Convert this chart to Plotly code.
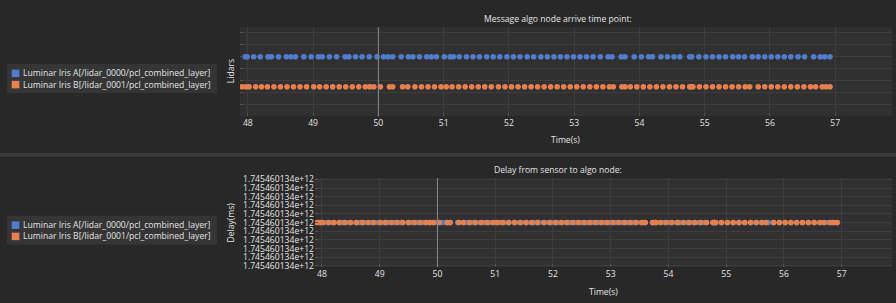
import plotly.graph_objects as go

W, H = 896, 303

# ---------------- data ----------------
series_names = ["Luminar Iris A[/lidar_0000/pcl_combined_layer]",
                "Luminar Iris B[/lidar_0001/pcl_combined_layer]"]
series_colors = ["#4f7ccc", "#e8804c"]

time_a = [47.96, 47.99, 48.09, 48.19, 48.31, 48.36, 48.47, 48.59, 48.66, 48.73,
          48.86, 48.97, 49.08, 49.14, 49.25, 49.36, 49.49, 49.55, 49.65, 49.75,
          49.86, 49.98, 50.08, 50.15, 50.22, 50.35, 50.46, 50.53, 50.63, 50.74,
          50.81, 50.89, 51.01, 51.10, 51.15, 51.24, 51.35, 51.45, 51.55, 51.66,
          51.76, 51.86, 51.97, 52.07, 52.17, 52.28, 52.38, 52.49, 52.59, 52.69,
          52.79, 52.89, 52.99, 53.09, 53.19, 53.29, 53.40, 53.52, 53.58, 53.72,
          53.78, 53.92, 54.03, 54.14, 54.20, 54.33, 54.43, 54.53, 54.62, 54.77,
          54.80, 54.91, 55.02, 55.12, 55.22, 55.32, 55.43, 55.52, 55.61, 55.73,
          55.82, 55.92, 56.02, 56.12, 56.22, 56.32, 56.43, 56.53, 56.67, 56.77,
          56.84, 56.92]
time_b = [47.91, 47.97, 48.02, 48.12, 48.21, 48.30, 48.40, 48.50, 48.60, 48.70,
          48.80, 48.90, 49.01, 49.10, 49.20, 49.30, 49.40, 49.50, 49.60, 49.70,
          49.80, 49.87, 49.93, 50.03, 50.17, 50.22, 50.37, 50.45, 50.56, 50.66,
          50.76, 50.86, 50.96, 51.04, 51.13, 51.23, 51.33, 51.43, 51.53, 51.63,
          51.73, 51.84, 51.94, 52.04, 52.14, 52.24, 52.34, 52.44, 52.54, 52.64,
          52.74, 52.84, 52.94, 53.04, 53.14, 53.24, 53.34, 53.44, 53.54, 53.60,
          53.73, 53.78, 53.86, 53.96, 54.06, 54.16, 54.26, 54.36, 54.46, 54.56,
          54.66, 54.77, 54.79, 54.82, 54.92, 55.02, 55.12, 55.22, 55.32, 55.42,
          55.52, 55.62, 55.69, 55.82, 55.92, 56.02, 56.12, 56.22, 56.32, 56.42,
          56.52, 56.62, 56.70, 56.80, 56.86, 56.92]
lidar_level = [1, 0]                 # row of each lidar in the top panel
delay_ms = 1745460134000.0           # constant delay read for both series
delay_a = [delay_ms for _ in time_a]
delay_b = [delay_ms for _ in time_b]
x_ticks = [48, 49, 50, 51, 52, 53, 54, 55, 56, 57]
delay_tick_label = "1.745460134e+12"
cursor_time = 50

# ---------------- styling helpers ----------------
FONT = "Open Sans"
FS = 8.6
TXT = "#e4e4e4"
BG = "#282828"
PLOT_BG = "#303030"
GRID = "#3d3d3d"
MS = 5.6

def px(x):
    return x / W

def py(y):
    return 1 - y / H

fig = go.Figure()

fig.add_trace(go.Scatter(x=time_a, y=[lidar_level[0]] * len(time_a), mode="markers",
                         marker=dict(color=series_colors[0], size=MS),
                         xaxis="x", yaxis="y", showlegend=False, hoverinfo="skip"))
fig.add_trace(go.Scatter(x=time_b, y=[lidar_level[1]] * len(time_b), mode="markers",
                         marker=dict(color=series_colors[1], size=MS),
                         xaxis="x", yaxis="y", showlegend=False, hoverinfo="skip"))
fig.add_trace(go.Scatter(x=time_a, y=delay_a, mode="markers",
                         marker=dict(color=series_colors[0], size=MS),
                         xaxis="x2", yaxis="y2", showlegend=False, hoverinfo="skip"))
fig.add_trace(go.Scatter(x=time_b, y=delay_b, mode="markers",
                         marker=dict(color=series_colors[1], size=MS),
                         xaxis="x2", yaxis="y2", showlegend=False, hoverinfo="skip"))

d = 0.2
delay_tickvals = [delay_ms + k * d for k in range(-5, 6)]

xaxis_common = dict(range=[47.88, 57.87], tickvals=x_ticks, ticktext=[str(t) for t in x_ticks],
                    showgrid=True, gridcolor=GRID, gridwidth=1, zeroline=False,
                    ticks="inside", ticklen=3, tickcolor="#555555", showline=False,
                    tickfont=dict(family=FONT, size=FS, color=TXT))

fig.update_layout(
    width=W, height=H, margin=dict(l=0, r=0, t=0, b=0),
    paper_bgcolor=BG, plot_bgcolor=PLOT_BG,
    showlegend=False,
    xaxis=dict(domain=[px(240), px(892)], anchor="y", **xaxis_common),
    yaxis=dict(domain=[py(115), py(23)], anchor="x", range=[-0.98, 1.98],
               tick0=0.2, dtick=0.4, showticklabels=False, showgrid=True,
               gridcolor=GRID, zeroline=False, ticks="inside", ticklen=3,
               tickcolor="#555555"),
    xaxis2=dict(domain=[px(315), px(892)], anchor="y2", **xaxis_common),
    yaxis2=dict(domain=[py(271), py(179)], anchor="x2",
                range=[delay_ms - 5.15 * d, delay_ms + 5.15 * d],
                tickvals=delay_tickvals, ticktext=[delay_tick_label] * len(delay_tickvals),
                showgrid=True, gridcolor=GRID, zeroline=False, ticks="inside",
                ticklen=3, tickcolor="#555555",
                tickfont=dict(family=FONT, size=FS, color=TXT)),
)

shapes = []
# panel separator band
shapes.append(dict(type="rect", xref="paper", yref="paper", x0=0, x1=1,
                   y0=py(157), y1=py(153), fillcolor="#3b3b3b", line_width=0, layer="below"))
# cursor lines
shapes.append(dict(type="line", xref="x", yref="y domain", x0=cursor_time, x1=cursor_time,
                   y0=0, y1=1, line=dict(color="#8a8a8a", width=1)))
shapes.append(dict(type="line", xref="x2", yref="y2 domain", x0=cursor_time, x1=cursor_time,
                   y0=0, y1=1, line=dict(color="#8a8a8a", width=1)))
shapes.append(dict(type="line", xref="x2 domain", yref="y2", x0=0, x1=1,
                   y0=delay_ms, y1=delay_ms, line=dict(color="#6e6e6e", width=1), layer="below"))

annotations = []

def legend(top):
    shapes.append(dict(type="rect", xref="paper", yref="paper", x0=px(7), x1=px(217),
                       y0=py(top + 30), y1=py(top), fillcolor="#353535", line_width=0))
    for i, (name, col) in enumerate(zip(series_names, series_colors)):
        cy = top + 9.7 + i * 11.6
        shapes.append(dict(type="rect", xref="paper", yref="paper",
                           x0=px(11.7), x1=px(19.4), y0=py(cy + 3.9), y1=py(cy - 3.9),
                           fillcolor=col, line_width=0))
        annotations.append(dict(text=name, xref="paper", yref="paper", x=px(20.5),
                                y=py(cy), xanchor="left", yanchor="middle", showarrow=False,
                                font=dict(family=FONT, size=FS, color=TXT)))

legend(61)
legend(218)

def label(text, x, y, angle=0):
    annotations.append(dict(text=text, xref="paper", yref="paper", x=px(x), y=py(y),
                            xanchor="center", yanchor="middle", showarrow=False,
                            textangle=angle, font=dict(family=FONT, size=FS, color=TXT)))

label("Message algo node arrive time point:", 558, 14)
label("Time(s)", 565, 140)
label("Lidars", 231, 68.5, -90)
label("Delay from sensor to algo node:", 558, 171)
label("Time(s)", 603, 297)
label("Delay(ms)", 231, 225, -90)

fig.update_layout(shapes=shapes, annotations=annotations)
fig.write_html("out.html")
